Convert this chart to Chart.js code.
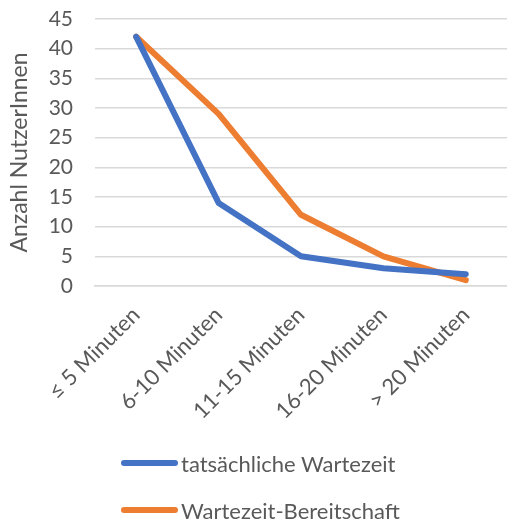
<!DOCTYPE html>
<html>
<head>
<meta charset="utf-8">
<script src="https://cdn.jsdelivr.net/npm/chart.js@4"></script>
<style>
  html, body { margin: 0; padding: 0; background: #fff; }
  #wrap { position: relative; width: 507px; height: 519px; }
  #c { position: absolute; left: 0; top: 0; }
  .legend { position: absolute; left: 121px; top: 0; font-family: Lato, "Open Sans", sans-serif; font-size: 22px; color: #595959; }
  .item { position: absolute; left: 0; white-space: nowrap; display: flex; align-items: center; height: 30px; }
  .swatch { display: inline-block; width: 57px; height: 6px; border-radius: 3px; margin-right: 3px; }
</style>
</head>
<body>
<div id="wrap">
  <canvas id="c" width="507" height="519"></canvas>
  <div class="legend" id="legend"></div>
</div>
<script>
const categories = ['≤ 5 Minuten', '6-10 Minuten', '11-15 Minuten', '16-20 Minuten', '> 20 Minuten'];
const tatsaechlich = [42, 14, 5, 3, 2];
const bereitschaft = [42, 29, 12, 5, 1];
const seriesNames = ['tatsächliche Wartezeit', 'Wartezeit-Bereitschaft'];
const seriesColors = ['#4472C4', '#ED7D31'];
const yTitle = 'Anzahl NutzerInnen';

const FONT = 'Lato, "Open Sans", sans-serif';
const TEXT = '#595959';
const GRID = '#d9d9d9';

const chart = new Chart(document.getElementById('c'), {
  type: 'line',
  data: {
    labels: categories,
    datasets: [
      { label: seriesNames[0], data: tatsaechlich, borderColor: seriesColors[0], backgroundColor: seriesColors[0],
        borderWidth: 6, pointRadius: 0, tension: 0, borderCapStyle: 'round', borderJoinStyle: 'round' },
      { label: seriesNames[1], data: bereitschaft, borderColor: seriesColors[1], backgroundColor: seriesColors[1],
        borderWidth: 6, pointRadius: 0, tension: 0, borderCapStyle: 'round', borderJoinStyle: 'round' }
    ]
  },
  options: {
    responsive: false,
    animation: false,
    layout: { padding: { top: 19, right: 0, left: 6, bottom: 0 } },
    plugins: { legend: { display: false }, tooltip: { enabled: false } },
    scales: {
      x: {
        offset: true,
        grid: { display: false, drawTicks: false },
        border: { display: true, color: GRID, width: 1.5 },
        ticks: { font: { family: FONT, size: 22 }, color: TEXT, maxRotation: 45, minRotation: 45, padding: 16 },
        afterFit: (s) => { s.height = 519 - 286; }
      },
      y: {
        min: 0, max: 45,
        grid: { color: GRID, lineWidth: 1.5, drawTicks: true, tickLength: 22, tickColor: 'rgba(0,0,0,0)' },
        border: { display: false },
        ticks: { stepSize: 5, autoSkip: false, font: { family: FONT, size: 21 }, color: TEXT, padding: 0 },
        title: { display: true, text: yTitle, font: { family: FONT, size: 23 }, color: TEXT, padding: { top: 0, bottom: 2 } },
        afterFit: (s) => { s.width = 95 - 6; }
      }
    }
  }
});

// legend below the chart, one series per row
const legend = document.getElementById('legend');
seriesNames.forEach((name, i) => {
  const item = document.createElement('div');
  item.className = 'item';
  item.style.top = (448 + i * 47) + 'px';
  const sw = document.createElement('span');
  sw.className = 'swatch';
  sw.style.background = seriesColors[i];
  const t = document.createElement('span');
  t.textContent = name;
  item.appendChild(sw);
  item.appendChild(t);
  legend.appendChild(item);
});
</script>
</body>
</html>
